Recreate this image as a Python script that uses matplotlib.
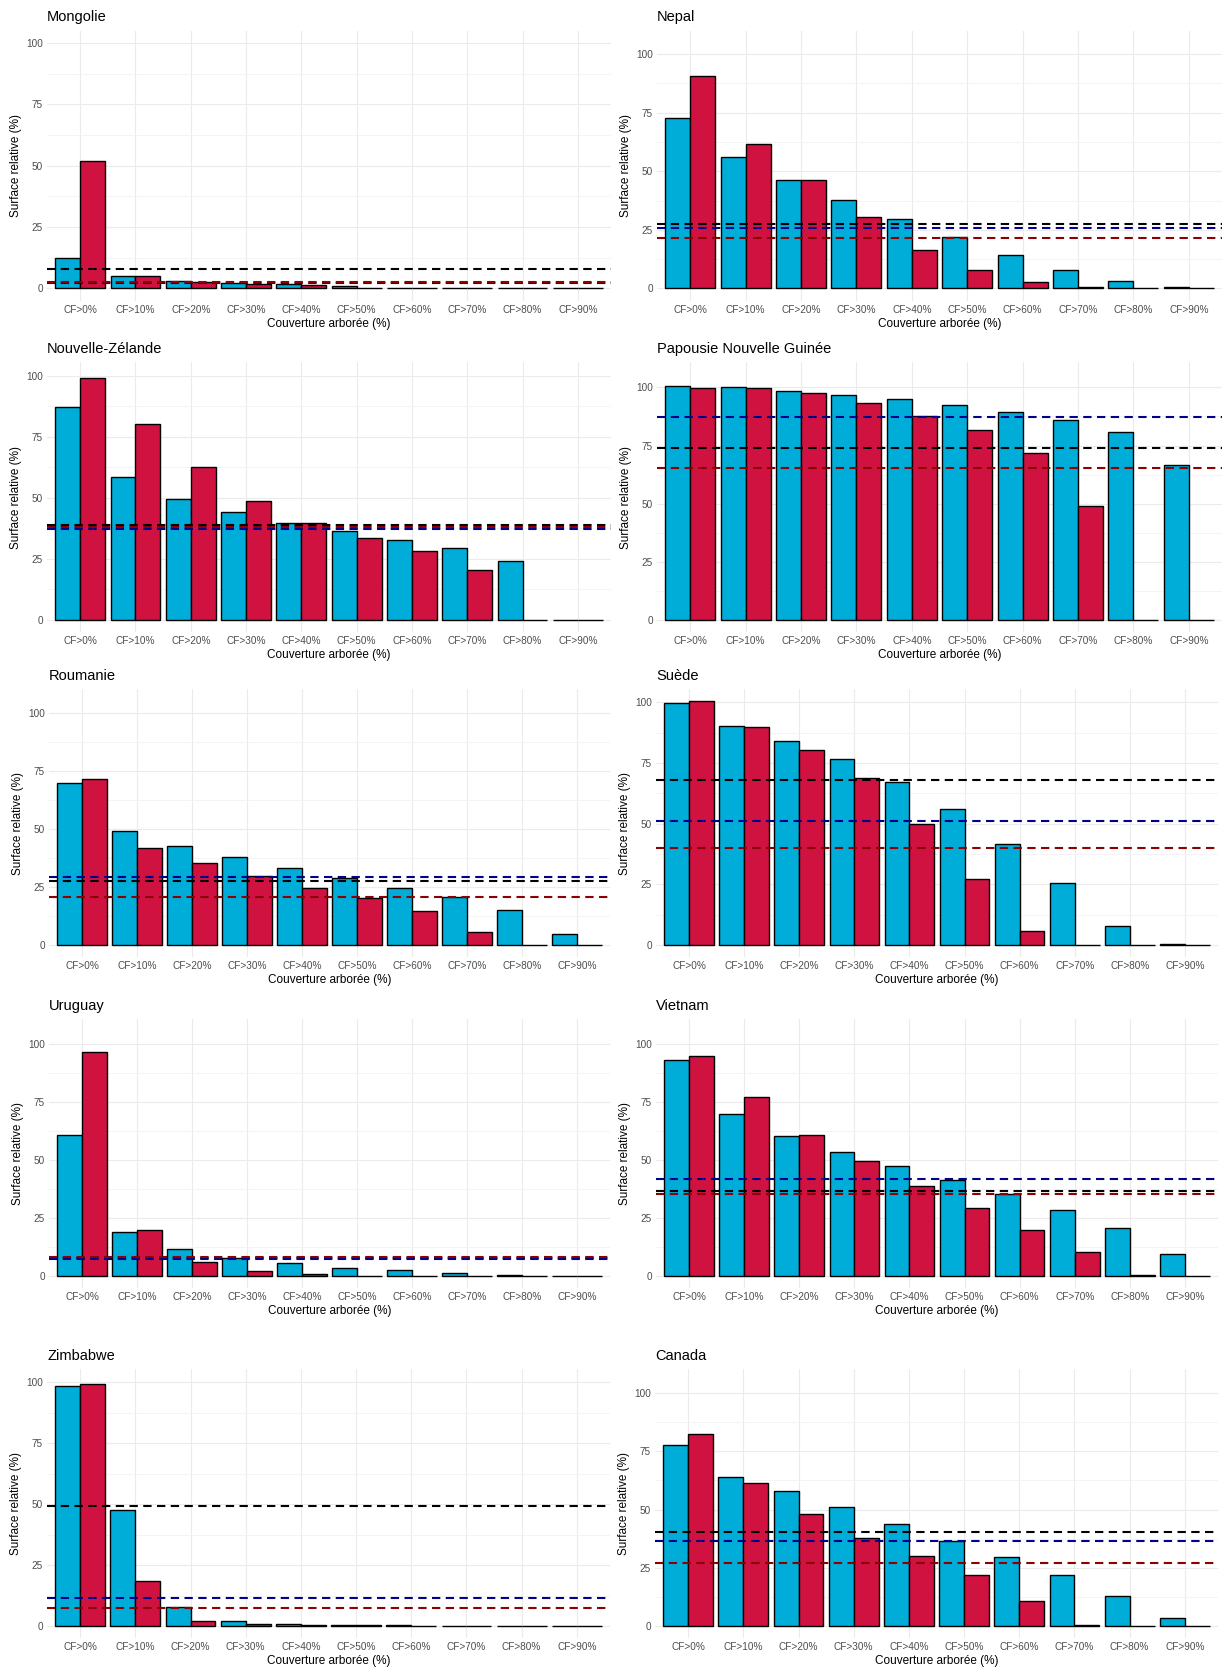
import matplotlib
matplotlib.use('Agg')
import matplotlib.pyplot as plt
import numpy as np

plt.rcParams['font.family'] = ['Liberation Sans', 'DejaVu Sans']

# Classes de couverture arborée
categories = ['CF>0%', 'CF>10%', 'CF>20%', 'CF>30%', 'CF>40%',
              'CF>50%', 'CF>60%', 'CF>70%', 'CF>80%', 'CF>90%']

pays = ['Mongolie', 'Nepal', 'Nouvelle-Zélande', 'Papousie Nouvelle Guinée',
        'Roumanie', 'Suède', 'Uruguay', 'Vietnam', 'Zimbabwe', 'Canada']

# Surface relative (%) par classe : série bleue / série rouge
mongolie_bleu = [12.5, 5.2, 3.1, 2.2, 1.6, 0.9, 0.2, 0.15, 0.1, 0.05]
mongolie_rouge = [51.8, 5.2, 2.7, 1.8, 1.2, 0.3, 0.1, 0.05, 0.0, 0.0]
nepal_bleu = [72.6, 56.0, 46.2, 37.6, 29.6, 21.9, 14.4, 7.7, 3.0, 0.4]
nepal_rouge = [90.9, 61.5, 46.2, 30.3, 16.5, 7.7, 2.8, 0.4, 0.1, 0.05]
nz_bleu = [87.2, 58.6, 49.7, 44.1, 39.9, 36.3, 32.9, 29.4, 24.3, 0.0]
nz_rouge = [99.2, 80.2, 62.6, 48.6, 39.6, 33.7, 28.1, 20.4, 0.0, 0.0]
png_bleu = [100.7, 100.0, 98.4, 96.7, 95.0, 92.6, 89.4, 85.8, 80.7, 66.5]
png_rouge = [99.6, 99.6, 97.4, 93.1, 87.8, 81.7, 71.6, 48.9, 0.0, 0.0]
roumanie_bleu = [69.6, 49.1, 42.8, 37.9, 33.0, 28.8, 24.7, 20.5, 14.9, 4.9]
roumanie_rouge = [71.6, 41.8, 35.2, 29.8, 24.7, 20.2, 14.6, 5.5, 0.0, 0.0]
suede_bleu = [99.9, 90.2, 84.2, 76.8, 67.3, 55.9, 41.8, 25.7, 8.0, 0.4]
suede_rouge = [100.5, 89.7, 80.5, 68.8, 49.9, 27.4, 5.6, 0.1, 0.0, 0.0]
uruguay_bleu = [60.7, 18.9, 11.7, 7.8, 5.6, 3.3, 2.5, 1.4, 0.4, 0.05]
uruguay_rouge = [96.8, 19.9, 5.9, 2.2, 0.7, 0.1, 0.05, 0.0, 0.0, 0.0]
vietnam_bleu = [93.2, 69.7, 60.6, 53.6, 47.6, 41.4, 35.3, 28.4, 20.8, 9.3]
vietnam_rouge = [95.0, 77.3, 60.8, 49.4, 38.8, 29.2, 19.7, 10.3, 0.4, 0.0]
zimbabwe_bleu = [98.4, 47.5, 7.8, 2.2, 0.8, 0.5, 0.2, 0.1, 0.1, 0.0]
zimbabwe_rouge = [99.3, 18.5, 2.2, 0.8, 0.5, 0.2, 0.1, 0.05, 0.0, 0.0]
canada_bleu = [77.9, 63.9, 57.8, 51.1, 44.0, 36.5, 29.5, 21.8, 12.8, 3.4]
canada_rouge = [82.6, 61.5, 48.0, 37.9, 29.9, 21.8, 10.8, 0.6, 0.0, 0.0]

# Lignes de référence : [noire, bleue, rouge]
mongolie_ref = [8.0, 2.1, 2.4]
nepal_ref = [27.5, 25.8, 21.5]
nz_ref = [38.8, 37.2, 38.0]
png_ref = [73.8, 87.2, 65.5]
roumanie_ref = [27.4, 29.4, 20.8]
suede_ref = [68.1, 51.0, 39.8]
uruguay_ref = [7.9, 7.5, 8.2]
vietnam_ref = [36.6, 42.0, 35.3]
zimbabwe_ref = [49.4, 11.4, 7.5]
canada_ref = [40.5, 36.4, 26.9]

# Maximum de l'échelle y de chaque panneau
y_max = [100, 104.8, 100.5, 105.5, 105, 100.5, 105.6, 105.6, 100.3, 105]

bleu = [mongolie_bleu, nepal_bleu, nz_bleu, png_bleu, roumanie_bleu,
        suede_bleu, uruguay_bleu, vietnam_bleu, zimbabwe_bleu, canada_bleu]
rouge = [mongolie_rouge, nepal_rouge, nz_rouge, png_rouge, roumanie_rouge,
         suede_rouge, uruguay_rouge, vietnam_rouge, zimbabwe_rouge, canada_rouge]
refs = [mongolie_ref, nepal_ref, nz_ref, png_ref, roumanie_ref,
        suede_ref, uruguay_ref, vietnam_ref, zimbabwe_ref, canada_ref]

# position des panneaux en pixels (gauche, droite, haut, bas)
W, H = 1223, 1669
rows = [(30.7, 300.6), (362.3, 632.3), (689.0, 957.2), (1019.0, 1288.2), (1369.3, 1638.2)]
cols_left = [(47, 611), (47, 611), (49, 610), (49, 610), (47, 610)]
cols_right = [(657, 1222), (657, 1222), (656, 1218), (656, 1218), (655, 1218)]

fig = plt.figure(figsize=(W / 100, H / 100), dpi=100)

x = np.arange(len(categories))
w = 0.45
for i, nom in enumerate(pays):
    r = i // 2
    top, bot = rows[r]
    l, rr = cols_left[r] if i % 2 == 0 else cols_right[r]
    ax = fig.add_axes([l / W, 1 - bot / H, (rr - l) / W, (bot - top) / H])

    ax.bar(x - w / 2, bleu[i], width=w, color='#00ADD8', edgecolor='black',
           linewidth=1.0, zorder=2)
    ax.bar(x + w / 2, rouge[i], width=w, color='#D01241', edgecolor='black',
           linewidth=1.0, zorder=2)

    noir, bl, rg = refs[i]
    for val, c in [(noir, 'black'), (bl, '#00008B'), (rg, '#8B0000')]:
        ax.axhline(val, color=c, linestyle=(0, (4, 2.6)), linewidth=1.5, zorder=3)

    m = y_max[i]
    ax.set_ylim(-0.05 * m, 1.05 * m)
    ax.set_xlim(-0.6, len(categories) - 0.4)
    ax.set_yticks([0, 25, 50, 75, 100])
    ax.set_yticks([12.5, 37.5, 62.5, 87.5], minor=True)
    ax.set_xticks(x)
    ax.set_xticklabels(categories)

    ax.grid(True, which='major', color='#EBEBEB', linewidth=0.8, zorder=0)
    ax.grid(True, which='minor', axis='y', color='#F3F3F3', linewidth=0.6, zorder=0)
    ax.set_axisbelow(True)
    for s in ax.spines.values():
        s.set_visible(False)
    ax.tick_params(which='both', length=0)
    ax.tick_params(axis='x', labelsize=7.2, labelcolor='#4D4D4D', pad=3)
    ax.tick_params(axis='y', labelsize=7.2, labelcolor='#4D4D4D', pad=3)

    ax.set_xlabel('Couverture arborée (%)', fontsize=8.5, labelpad=2)
    ax.set_ylabel('Surface relative (%)', fontsize=8.5, labelpad=3)
    ax.annotate(nom, xy=(0, 1), xycoords='axes fraction', xytext=(0, 13.5),
                textcoords='offset pixels', va='center', ha='left', fontsize=10.5)

fig.savefig('out.png', dpi=100, facecolor='white')
